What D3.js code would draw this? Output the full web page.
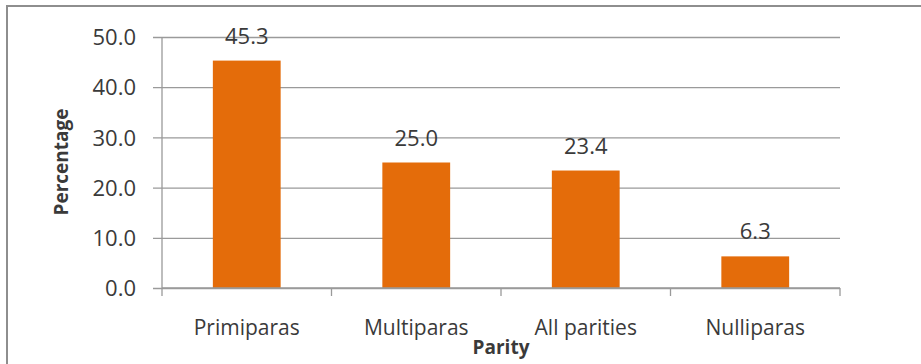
<!DOCTYPE html>
<html>
<head>
<meta charset="utf-8">
<script src="https://cdn.jsdelivr.net/npm/d3@7"></script>
<style>
  html, body { margin: 0; padding: 0; background: #fff; }
  svg { display: block; }
  text { font-family: "Open Sans", "Noto Sans", sans-serif; fill: #3a3a3a; }
</style>
</head>
<body>
<svg id="chart" width="921" height="364"></svg>
<script>
// Share of women by parity group (percent)
const categories = ["Primiparas", "Multiparas", "All parities", "Nulliparas"];
const percentages = [45.3, 25.0, 23.4, 6.3];
const yTicks = [0, 10, 20, 30, 40, 50];

const svg = d3.select("#chart");
const W = 921, H = 364;

// outer frame (extends past the right and bottom edges)
svg.append("rect")
  .attr("x", 7).attr("y", 6)
  .attr("width", W + 20).attr("height", H + 20)
  .attr("fill", "none")
  .attr("stroke", "#8e8e8e")
  .attr("stroke-width", 2);

const plot = { left: 162, right: 840, top: 37, bottom: 288 };

const x = d3.scaleBand()
  .domain(categories)
  .range([plot.left, plot.right])
  .paddingInner(0.6)
  .paddingOuter(0.3);

const xTickScale = d3.scaleBand()
  .domain(categories)
  .range([plot.left, plot.right]);

const y = d3.scaleLinear()
  .domain([0, 50])
  .range([plot.bottom, plot.top]);

// horizontal gridlines + left ticks
const yAxis = d3.axisLeft(y)
  .tickValues(yTicks)
  .tickSize(-(plot.right - plot.left))
  .tickPadding(0)
  .tickFormat(d3.format(".1f"));

const gy = svg.append("g")
  .attr("transform", `translate(${plot.left},0)`)
  .call(yAxis);
gy.select(".domain").remove();
gy.selectAll(".tick line")
  .attr("x1", -9)
  .attr("stroke", "#9a9a9a")
  .attr("stroke-width", 1.3);
gy.selectAll(".tick text")
  .attr("x", -26)
  .attr("dy", "0.35em")
  .style("font-size", "22px")
  .style("font-family", "'Open Sans', sans-serif")
  .attr("fill", "#3a3a3a");

// vertical axis line
svg.append("line")
  .attr("x1", plot.left).attr("x2", plot.left)
  .attr("y1", plot.top).attr("y2", plot.bottom)
  .attr("stroke", "#9a9a9a").attr("stroke-width", 1.3);

// bars
svg.selectAll("rect.bar")
  .data(percentages)
  .join("rect")
  .attr("class", "bar")
  .attr("x", (d, i) => x(categories[i]))
  .attr("width", x.bandwidth())
  .attr("y", d => y(d))
  .attr("height", d => y(0) - y(d))
  .attr("fill", "#e46c0a");

// x axis with category dividers
const xAxis = d3.axisBottom(xTickScale).tickSize(0).tickPadding(0);
const gx = svg.append("g")
  .attr("transform", `translate(0,${plot.bottom})`)
  .call(xAxis);
gx.select(".domain")
  .attr("stroke", "#9a9a9a").attr("stroke-width", 1.3)
  .attr("d", `M${plot.left},0H${plot.right}`);
gx.selectAll(".tick text")
  .attr("y", 47)
  .attr("dy", 0)
  .style("font-size", "21px")
  .style("font-family", "'Open Sans', sans-serif")
  .attr("fill", "#3a3a3a");

// divider ticks at band boundaries
const boundaries = categories.map(c => xTickScale(c)).concat([plot.right]);
gx.selectAll("line.divider")
  .data(boundaries)
  .join("line")
  .attr("class", "divider")
  .attr("x1", d => d).attr("x2", d => d)
  .attr("y1", 0).attr("y2", 8)
  .attr("stroke", "#9a9a9a").attr("stroke-width", 1.3);

// value labels
svg.selectAll("text.value")
  .data(percentages)
  .join("text")
  .attr("class", "value")
  .attr("x", (d, i) => x(categories[i]) + x.bandwidth() / 2)
  .attr("y", d => y(d) - 17)
  .attr("text-anchor", "middle")
  .style("font-size", "22px")
  .text(d => d3.format(".1f")(d));

// axis titles
svg.append("text")
  .attr("x", (plot.left + plot.right) / 2)
  .attr("y", 354)
  .attr("text-anchor", "middle")
  .style("font-size", "19px")
  .style("font-weight", "bold")
  .attr("fill", "#222")
  .text("Parity");

svg.append("text")
  .attr("transform", `translate(68,${162}) rotate(-90)`)
  .attr("text-anchor", "middle")
  .style("font-size", "19px")
  .style("font-weight", "bold")
  .attr("fill", "#222")
  .text("Percentage");
</script>
</body>
</html>
